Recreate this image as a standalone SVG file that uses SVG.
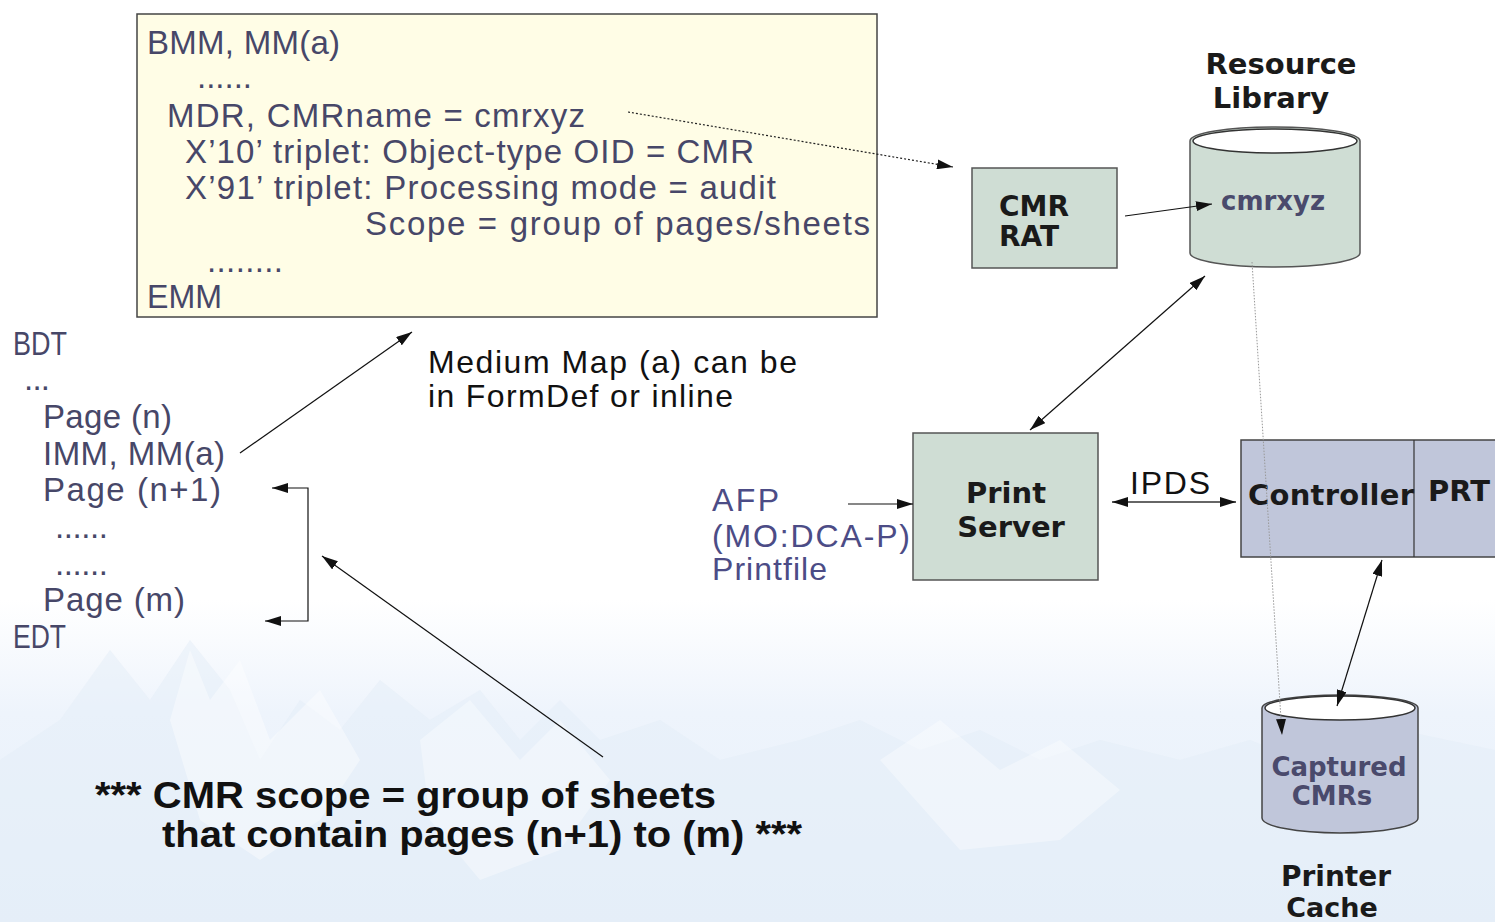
<svg xmlns="http://www.w3.org/2000/svg" width="1495" height="922" viewBox="0 0 1495 922">
<defs>
<linearGradient id="bg" x1="0" y1="0" x2="0" y2="1">
<stop offset="0" stop-color="#ffffff"/>
<stop offset="0.35" stop-color="#eef4fc"/>
<stop offset="1" stop-color="#e6eff9"/>
</linearGradient>
<marker id="ah" viewBox="0 0 16 10" refX="16" refY="5" markerWidth="16" markerHeight="10" markerUnits="userSpaceOnUse" orient="auto-start-reverse">
<path d="M0,0 L16,5 L0,10 z" fill="#111"/>
</marker>
<style>
.code{font-family:"Liberation Sans",Arial,sans-serif;font-size:33px;fill:#474768}
.plain{font-family:"Liberation Sans",Arial,sans-serif;font-size:32px;fill:#111}
.afp{font-family:"Liberation Sans",Arial,sans-serif;font-size:32px;fill:#4c4c86}
.bold{font-family:"DejaVu Sans",sans-serif;font-weight:bold;font-size:29px;fill:#1a1a1a}
.boldp{font-family:"DejaVu Sans",sans-serif;font-weight:bold;font-size:26px;fill:#4a4a6c}
.big{font-family:"Liberation Sans",Arial,sans-serif;font-weight:bold;font-size:36px;fill:#111}
.ln{stroke:#111;stroke-width:1.2;fill:none}
.green{fill:#cfddd4;stroke:#555;stroke-width:1.5}
.blue{fill:#c0c6da;stroke:#444;stroke-width:1.5}
</style>
</defs>

<g id="background">
<rect x="0" y="0" width="1495" height="922" fill="#ffffff"/>
<rect x="0" y="600" width="1495" height="322" fill="url(#bg)"/>
<path d="M0,760 L60,720 L110,650 L150,700 L190,640 L230,690 L260,760 L300,700 L340,730 L380,680 L430,720 L480,690 L520,740 L560,700 L600,740 L660,720 L720,760 L800,740 L860,720 L920,750 L980,730 L1040,760 L1100,740 L1180,760 L1250,740 L1300,760 L1400,730 L1495,750 L1495,922 L0,922 Z" fill="#e4edf8" opacity="0.5"/>
<path d="M170,720 L190,650 L210,700 L240,660 L270,740 L320,690 L360,760 L320,820 L260,860 L200,820 Z" fill="#ffffff" opacity="0.4"/>
<path d="M420,740 L470,700 L520,760 L560,720 L610,780 L560,850 L480,880 L430,820 Z" fill="#ffffff" opacity="0.35"/>
<path d="M880,760 L940,720 L1000,770 L1060,740 L1120,790 L1060,840 L960,850 Z" fill="#ffffff" opacity="0.35"/>
</g>

<g id="mm-box">
<rect x="137" y="14" width="740" height="303" fill="#fffde6" stroke="#444" stroke-width="1.5"/>
<text class="code" x="147" y="54" textLength="193">BMM, MM(a)</text>
<text class="code" x="197" y="88" textLength="55">......</text>
<text class="code" x="167" y="127" textLength="418">MDR, CMRname = cmrxyz</text>
<text class="code" x="185" y="163" textLength="569">X’10’ triplet: Object-type OID = CMR</text>
<text class="code" x="185" y="199" textLength="591">X’91’ triplet: Processing mode = audit</text>
<text class="code" x="365" y="235" textLength="505">Scope = group of pages/sheets</text>
<text class="code" x="207" y="272" textLength="76">........</text>
<text class="code" x="147" y="308" textLength="75" lengthAdjust="spacingAndGlyphs">EMM</text>
</g>

<g id="datastream">
<text class="code" x="13" y="355" textLength="54" lengthAdjust="spacingAndGlyphs">BDT</text>
<text class="code" x="24" y="390" textLength="26">...</text>
<text class="code" x="43" y="428" textLength="129">Page (n)</text>
<text class="code" x="43" y="465" textLength="182">IMM, MM(a)</text>
<text class="code" x="43" y="501" textLength="178">Page (n+1)</text>
<text class="code" x="55" y="538" textLength="53">......</text>
<text class="code" x="55" y="575" textLength="53">......</text>
<text class="code" x="43" y="611" textLength="142">Page (m)</text>
<text class="code" x="13" y="648" textLength="53" lengthAdjust="spacingAndGlyphs">EDT</text>
</g>

<g id="note-mm">
<text class="plain" x="428" y="373" textLength="369">Medium Map (a) can be</text>
<text class="plain" x="428" y="407" textLength="305">in FormDef or inline</text>
</g>

<g id="cmr-rat">
<rect class="green" x="972" y="168" width="145" height="100"/>
<text class="bold" x="999" y="216" style="font-size:28px">CMR</text>
<text class="bold" x="999" y="246" style="font-size:28px">RAT</text>
</g>

<g id="resource-library">
<text class="bold" x="1281" y="74" text-anchor="middle">Resource</text>
<text class="bold" x="1271" y="108" text-anchor="middle">Library</text>
<path class="green" d="M1190,141 L1190,253 A85,14 0 0 0 1360,253 L1360,141 A85,14 0 0 0 1190,141 Z"/>
<ellipse cx="1275" cy="141" rx="82" ry="12" fill="#ffffff" stroke="#333" stroke-width="1.5"/>
<text class="boldp" x="1221" y="210">cmrxyz</text>
</g>

<g id="afp-file">
<text class="afp" x="712" y="511" textLength="67">AFP</text>
<text class="afp" x="712" y="547" textLength="198">(MO:DCA-P)</text>
<text class="afp" x="712" y="580" textLength="115">Printfile</text>
</g>

<g id="print-server">
<rect class="green" x="913" y="433" width="185" height="147"/>
<text class="bold" x="1006" y="503" text-anchor="middle">Print</text>
<text class="bold" x="1011" y="537" text-anchor="middle">Server</text>
</g>

<g id="printer">
<rect class="blue" x="1241" y="440" width="260" height="117"/>
<line x1="1414" y1="440" x2="1414" y2="557" stroke="#333" stroke-width="1.2"/>
<text class="bold" x="1248" y="505" textLength="166">Controller</text>
<text class="bold" x="1428" y="501">PRT</text>
</g>

<g id="printer-cache">
<path class="blue" d="M1262,708 L1262,818 A78,15 0 0 0 1418,818 L1418,708 A78,13 0 0 0 1262,708 Z"/>
<ellipse cx="1340" cy="708" rx="75" ry="12" fill="#ffffff" stroke="#333" stroke-width="1.5"/>
<text class="boldp" x="1339" y="776" text-anchor="middle">Captured</text>
<text class="boldp" x="1332" y="805" text-anchor="middle">CMRs</text>
<text class="bold" x="1336" y="886" text-anchor="middle" style="font-size:28px">Printer</text>
<text class="bold" x="1332" y="917" text-anchor="middle" style="font-size:27px">Cache</text>
</g>

<g id="ipds-label">
<text class="plain" x="1130" y="494" textLength="80">IPDS</text>
</g>

<g id="scope-note">
<text class="big" x="95" y="808" textLength="621" lengthAdjust="spacingAndGlyphs">*** CMR scope = group of sheets</text>
<text class="big" x="162" y="847" textLength="640" lengthAdjust="spacingAndGlyphs">that contain pages (n+1) to (m) ***</text>
</g>

<g id="connectors">
<line class="ln" x1="240" y1="453" x2="412" y2="332" marker-end="url(#ah)"/>
<polyline class="ln" points="272,488 308,488 308,621 265,621" marker-start="url(#ah)" marker-end="url(#ah)"/>
<line class="ln" x1="603" y1="757" x2="322" y2="556" marker-end="url(#ah)"/>
<line x1="628" y1="112" x2="953" y2="167" stroke="#222" stroke-width="1.2" stroke-dasharray="2,2" marker-end="url(#ah)"/>
<line class="ln" x1="1125" y1="216" x2="1212" y2="204" marker-end="url(#ah)"/>
<line class="ln" x1="1205" y1="276" x2="1030" y2="430" marker-start="url(#ah)" marker-end="url(#ah)"/>
<line class="ln" x1="848" y1="504" x2="913" y2="504" marker-end="url(#ah)"/>
<line x1="1112" y1="502" x2="1236" y2="502" stroke="#666" stroke-width="2" marker-start="url(#ah)" marker-end="url(#ah)"/>
<line class="ln" x1="1382" y1="560" x2="1337" y2="706" marker-start="url(#ah)" marker-end="url(#ah)"/>
<line x1="1252" y1="262" x2="1282" y2="735" stroke="#999" stroke-width="1" stroke-dasharray="1.5,1.5" marker-end="url(#ah)"/>
</g>
</svg>
